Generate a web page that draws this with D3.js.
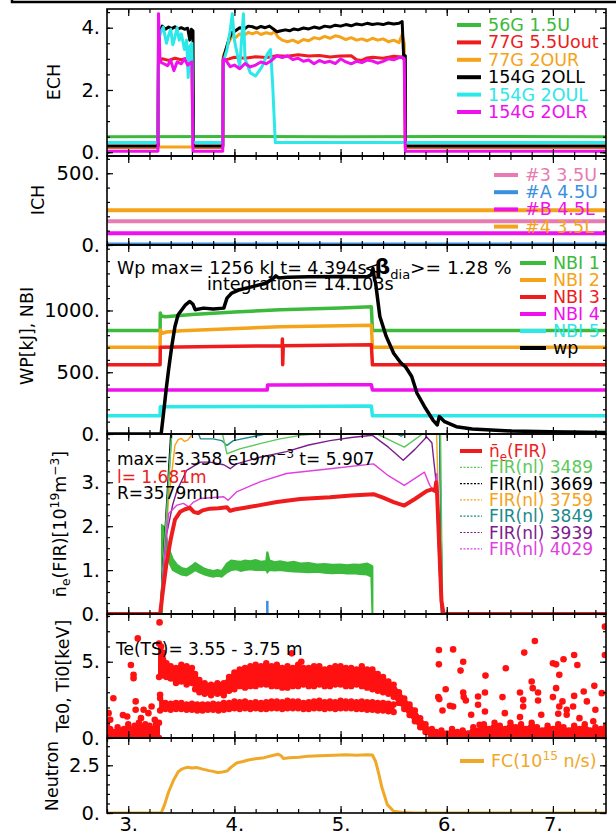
<!DOCTYPE html>
<html>
<head>
<meta charset="utf-8">
<script src="https://cdn.jsdelivr.net/npm/d3@7"></script>
<style>
body{margin:0;background:#fff;}
svg{display:block;font-family:"DejaVu Sans",sans-serif;}
</style>
</head>
<body>
<svg id="chart" width="616" height="838"></svg>
<script>
// ---------- data (time [s], value) ----------
// ECH [MW]
const ech56G = [[2.8,0.5],[4.0,0.51],[5.0,0.5],[6.0,0.51],[7.5,0.5]];
const ech77Gout = [[2.8,0.15],[3.28,0.15],[3.285,2.9],[3.32,3.0],[3.38,2.95],[3.44,3.02],[3.5,2.97],[3.56,3.02],[3.6,2.98],[3.61,0.15],[3.89,0.15],[3.895,2.95],[3.95,3.0],[4.0,3.05],[4.1,3.02],[4.2,3.07],[4.3,3.04],[4.4,3.1],[4.5,3.08],[4.6,3.13],[4.7,3.09],[4.8,3.11],[4.9,3.06],[5.0,3.09],[5.1,3.1],[5.15,2.97],[5.2,2.95],[5.25,3.03],[5.3,3.05],[5.4,3.02],[5.5,3.08],[5.6,3.05],[5.61,0.15],[7.5,0.15]];
const ech77G2OUR = [[2.8,0.17],[3.89,0.17],[3.895,3.1],[3.92,3.3],[3.95,3.55],[3.98,3.75],[4.01,3.68],[4.05,3.8],[4.09,3.75],[4.13,3.85],[4.17,3.8],[4.21,3.86],[4.25,3.78],[4.3,3.84],[4.35,3.8],[4.38,3.88],[4.41,3.7],[4.45,3.6],[4.5,3.55],[4.55,3.6],[4.6,3.52],[4.65,3.62],[4.7,3.58],[4.75,3.68],[4.8,3.64],[4.85,3.72],[4.9,3.66],[4.95,3.74],[5.0,3.7],[5.05,3.62],[5.1,3.68],[5.15,3.6],[5.2,3.64],[5.25,3.58],[5.3,3.66],[5.35,3.6],[5.4,3.64],[5.45,3.55],[5.5,3.6],[5.55,3.52],[5.58,3.78],[5.6,3.5],[5.612,0.17],[7.5,0.17]];
const ech154G2OLL = [[2.8,0.2],[3.28,0.2],[3.285,3.5],[3.3,3.9],[3.32,4.05],[3.35,3.95],[3.38,4.02],[3.41,3.97],[3.44,4.03],[3.47,3.96],[3.5,4.0],[3.53,3.95],[3.56,3.98],[3.58,3.6],[3.595,3.95],[3.61,3.9],[3.615,0.2],[3.89,0.2],[3.895,3.0],[3.92,3.3],[3.95,3.65],[3.98,3.85],[4.01,3.9],[4.05,4.0],[4.09,3.95],[4.13,4.05],[4.17,4.03],[4.21,3.98],[4.25,4.04],[4.29,4.0],[4.33,4.05],[4.37,3.95],[4.4,3.87],[4.44,3.9],[4.48,3.93],[4.52,3.9],[4.56,3.96],[4.6,3.93],[4.65,3.99],[4.7,3.96],[4.75,4.02],[4.8,3.98],[4.85,4.05],[4.9,4.02],[4.95,4.08],[5.0,4.05],[5.05,4.1],[5.1,4.06],[5.15,4.12],[5.2,4.09],[5.25,4.14],[5.3,4.1],[5.35,4.13],[5.4,4.1],[5.45,4.15],[5.5,4.12],[5.55,4.14],[5.58,4.2],[5.595,3.0],[5.61,3.1],[5.612,0.2],[7.5,0.2]];
const ech154G2OUL = [[2.8,0.31],[3.28,0.31],[3.285,3.6],[3.3,3.8],[3.33,4.02],[3.36,3.5],[3.38,3.75],[3.4,3.95],[3.42,3.45],[3.44,3.7],[3.46,4.0],[3.48,3.6],[3.5,3.8],[3.53,3.3],[3.55,3.6],[3.565,2.4],[3.58,3.4],[3.6,3.5],[3.61,0.31],[3.89,0.31],[3.895,2.9],[3.93,3.3],[3.96,3.9],[3.98,4.45],[4.0,3.6],[4.03,3.1],[4.05,2.75],[4.085,4.45],[4.1,3.0],[4.15,2.55],[4.2,2.45],[4.23,2.6],[4.26,2.75],[4.31,3.15],[4.34,3.3],[4.36,2.2],[4.385,0.31],[7.5,0.31]];
const ech154G2OLR = [[2.8,0.03],[3.28,0.03],[3.285,4.45],[3.3,2.9],[3.33,2.85],[3.37,2.78],[3.4,2.95],[3.43,2.62],[3.46,2.9],[3.5,2.84],[3.53,3.0],[3.56,2.8],[3.6,2.9],[3.61,0.03],[3.89,0.03],[3.895,3.0],[3.92,2.95],[3.96,2.75],[4.0,2.8],[4.05,2.68],[4.1,2.85],[4.15,2.74],[4.2,2.8],[4.25,2.9],[4.3,2.84],[4.35,2.95],[4.4,3.1],[4.45,3.04],[4.5,3.1],[4.55,2.98],[4.6,3.02],[4.65,2.92],[4.7,2.96],[4.75,2.84],[4.8,2.95],[4.85,2.88],[4.9,2.92],[4.95,2.85],[5.0,3.0],[5.05,2.9],[5.1,2.84],[5.15,2.92],[5.2,2.88],[5.25,2.96],[5.3,2.93],[5.35,2.86],[5.4,2.92],[5.45,3.0],[5.5,2.97],[5.55,3.04],[5.58,3.05],[5.6,3.0],[5.61,0.03],[7.5,0.03]];
const echNames = ['56G 1.5U','77G 5.5Uout','77G 2OUR','154G 2OLL','154G 2OUL','154G 2OLR'];

// ICH [kW]
const ich3 = [[2.8,165],[7.5,165]];
const ichA = [[2.8,4],[7.5,4]];
const ichB = [[2.8,82],[7.5,82]];
const ich4 = [[2.8,242],[7.5,242]];
const ichNames = ['#3 3.5U','#A 4.5U','#B 4.5L','#4 3.5L'];

// NBI port-through power and stored energy
const nbi1 = [[2.8,838],[3.3,838],[3.302,980],[3.31,955],[3.35,950],[3.6,968],[4.0,988],[4.43,1005],[5.0,1020],[5.29,1030],[5.3,838],[7.5,838]];
const nbi2 = [[2.8,703],[3.3,703],[3.302,842],[3.32,815],[3.36,826],[3.5,835],[4.43,868],[5.29,880],[5.3,703],[7.5,703]];
const nbi3 = [[2.8,560],[3.3,560],[3.302,702],[4.0,710],[4.45,714],[4.452,770],[4.455,560],[4.46,715],[5.29,722],[5.3,560],[7.5,560]];
const nbi4 = [[2.8,357],[4.31,357],[4.312,397],[5.0,398],[5.29,398],[5.3,357],[7.5,357]];
const nbi5 = [[2.8,148],[3.3,148],[3.302,221],[4.5,223],[5.29,226],[5.3,148],[7.5,148]];
const wp = [[2.8,0],[3.31,0],[3.33,150],[3.36,380],[3.38,520],[3.41,710],[3.44,870],[3.47,965],[3.54,1046],[3.58,1073],[3.61,1050],[3.63,1006],[3.71,1019],[3.8,1011],[3.9,1019],[3.93,1100],[3.975,1141],[4.05,1168],[4.18,1195],[4.3,1222],[4.37,1263],[4.39,1280],[4.42,1262],[4.5,1268],[4.7,1272],[5.0,1275],[5.25,1272],[5.29,1290],[5.305,1340],[5.32,1250],[5.33,1222],[5.37,951],[5.43,790],[5.5,654],[5.57,573],[5.61,546],[5.67,465],[5.72,330],[5.8,208],[5.87,113],[5.91,73],[5.93,141],[5.98,100],[6.09,59],[6.24,40],[6.61,24],[6.98,19],[7.5,13]];
const nbiNames = ['NBI 1','NBI 2','NBI 3','NBI 4','NBI 5','wp'];

// line-averaged density and FIR chords [1e19 m^-3]
const neFIR = [[2.8,0],[3.3,0],[3.33,0.6],[3.36,1.15],[3.4,1.7],[3.44,2.15],[3.49,2.33],[3.53,2.38],[3.58,2.42],[3.62,2.32],[3.66,2.3],[3.7,2.36],[3.77,2.4],[3.85,2.41],[3.93,2.43],[3.96,2.35],[4.0,2.38],[4.1,2.42],[4.24,2.48],[4.4,2.55],[4.62,2.62],[4.9,2.66],[5.1,2.7],[5.31,2.73],[5.4,2.65],[5.5,2.55],[5.6,2.47],[5.7,2.62],[5.81,2.8],[5.86,2.84],[5.89,2.8],[5.9,3.0],[5.91,2.7],[5.93,1.5],[5.95,0.3],[5.97,0],[7.5,0]];
const fir3489 = [[2.8,0],[3.3,0],[3.42,4.5],[3.86,4.4],[3.93,3.65],[4.05,3.76],[4.24,3.88],[4.43,3.99],[4.62,4.07],[4.9,4.13],[5.3,4.15],[5.37,4.07],[5.6,3.8],[5.8,4.15],[5.86,4.4],[5.94,4.5],[5.96,0],[7.5,0]];
const fir3669 = [[2.8,0],[3.3,0],[3.41,4.5],[5.93,4.5],[5.96,0],[7.5,0]];
const fir3759 = [[2.8,0],[3.3,0],[3.38,2.6],[3.44,3.84],[3.47,3.97],[3.5,4.0],[3.53,3.93],[3.56,3.96],[3.59,4.05],[3.62,4.3],[5.9,4.5],[5.95,0],[7.5,0]];
const fir3849 = [[2.8,0],[3.3,0],[3.42,4.5],[3.62,4.3],[3.65,4.18],[3.68,3.99],[3.8,3.99],[3.88,3.95],[3.93,3.84],[3.99,3.95],[4.24,4.07],[4.43,4.18],[4.6,4.3],[5.45,4.3],[5.53,4.1],[5.57,4.05],[5.62,4.12],[5.7,4.3],[5.93,4.5],[5.96,0],[7.5,0]];
const fir3939 = [[2.8,0],[3.3,0],[3.36,1.8],[3.42,2.5],[3.46,2.82],[3.55,3.27],[3.68,3.46],[3.77,3.46],[3.9,3.4],[3.96,3.31],[4.02,3.42],[4.24,3.57],[4.49,3.7],[4.7,3.85],[4.9,3.95],[5.1,4.02],[5.3,4.07],[5.45,3.8],[5.59,3.5],[5.7,3.75],[5.81,4.03],[5.86,3.9],[5.9,3.0],[5.93,1.0],[5.95,0],[7.5,0]];
const fir4029 = [[2.8,0],[3.3,0],[3.35,1.5],[3.38,2.29],[3.46,2.48],[3.52,2.52],[3.57,2.44],[3.615,2.55],[3.68,2.63],[3.9,2.67],[3.94,2.59],[4.02,2.78],[4.24,3.01],[4.49,3.2],[4.9,3.31],[5.31,3.42],[5.45,3.15],[5.6,2.93],[5.79,3.23],[5.84,2.93],[5.88,2.8],[5.907,3.2],[5.92,2.5],[5.94,1.0],[5.96,0],[7.5,0]];
// green noisy trace: [t, low, high]
const neGreen = [[3.318,0,2.02],[3.33,1.7,2.0],[3.35,1.6,1.9],[3.38,1.2,1.5],[3.42,1.0,1.25],[3.46,0.95,1.12],[3.5,0.9,1.05],[3.55,0.88,1.02],[3.6,0.95,1.1],[3.63,1.0,1.16],[3.67,0.95,1.1],[3.72,0.9,1.03],[3.76,0.87,1.0],[3.8,0.85,0.98],[3.84,0.87,1.0],[3.88,0.85,0.98],[3.93,0.95,1.15],[3.97,1.0,1.22],[4.02,1.02,1.2],[4.06,0.98,1.19],[4.1,1.0,1.22],[4.15,1.02,1.2],[4.2,1.0,1.23],[4.25,1.01,1.19],[4.3,1.0,1.21],[4.31,0.95,1.42],[4.33,1.0,1.22],[4.38,0.99,1.18],[4.43,1.0,1.2],[4.5,0.98,1.17],[4.56,0.97,1.19],[4.62,0.96,1.15],[4.7,0.95,1.16],[4.78,0.96,1.13],[4.85,0.94,1.14],[4.92,0.93,1.12],[5.0,0.94,1.13],[5.06,0.92,1.11],[5.12,0.93,1.13],[5.18,0.91,1.12],[5.25,0.9,1.15],[5.29,0.85,1.1],[5.3,0,1.08]];
const neGreenTail = [[3.3,0],[5.96,0]];
const neBlue = [[4.31,0],[4.31,0.3]];
const neNames = ['FIR(nl) 3489','FIR(nl) 3669','FIR(nl) 3759','FIR(nl) 3849','FIR(nl) 3939','FIR(nl) 4029'];

// Thomson scattering Te / Ti [keV]: bands [t, low, high] and single points
const teBand = [[3.29,4.0,6.2],[3.31,4.2,6.0],[3.33,4.1,5.6],[3.36,4.0,4.9],[3.4,3.9,4.7],[3.45,3.6,4.6],[3.5,3.7,4.8],[3.55,3.5,4.7],[3.6,3.6,4.6],[3.63,3.2,4.2],[3.67,3.0,3.8],[3.72,2.9,3.6],[3.78,2.8,3.5],[3.84,2.9,3.6],[3.9,2.8,3.6],[3.95,3.1,4.0],[4.0,3.2,4.3],[4.05,3.4,4.5],[4.1,3.3,4.6],[4.15,3.4,4.7],[4.2,3.4,4.8],[4.25,3.5,4.7],[4.3,3.5,4.9],[4.35,3.4,4.7],[4.4,3.4,4.8],[4.45,3.3,4.6],[4.5,3.3,4.7],[4.55,3.4,4.6],[4.6,3.4,4.8],[4.65,3.5,4.6],[4.7,3.4,4.6],[4.75,3.4,4.7],[4.8,3.5,4.7],[4.85,3.4,4.5],[4.9,3.4,4.6],[4.95,3.5,4.7],[5.0,3.5,4.7],[5.05,3.4,4.6],[5.1,3.4,4.6],[5.15,3.5,4.5],[5.2,3.4,4.7],[5.25,3.3,4.5],[5.3,3.2,4.5],[5.35,3.1,4.2],[5.4,3.0,4.0],[5.45,2.9,3.7],[5.5,2.7,3.5],[5.55,2.3,3.0],[5.6,1.9,2.6],[5.65,1.5,2.2],[5.7,1.1,1.8],[5.75,0.7,1.3],[5.8,0.4,0.9],[5.85,0.1,0.5],[5.88,0.0,0.3]];
const tiBand = [[3.3,1.8,2.6],[3.35,1.9,2.3],[3.4,1.85,2.25],[3.45,1.9,2.3],[3.5,1.9,2.3],[3.55,1.85,2.2],[3.6,1.85,2.25],[3.65,1.8,2.2],[3.7,1.8,2.2],[3.75,1.85,2.2],[3.8,1.85,2.25],[3.85,1.8,2.2],[3.9,1.85,2.3],[3.95,1.9,2.3],[4.0,1.95,2.4],[4.05,1.9,2.35],[4.1,1.95,2.4],[4.15,1.9,2.3],[4.2,1.95,2.35],[4.25,1.9,2.3],[4.3,1.9,2.35],[4.35,1.95,2.4],[4.4,1.95,2.4],[4.45,1.9,2.35],[4.5,1.95,2.45],[4.55,1.95,2.4],[4.6,1.95,2.4],[4.65,1.9,2.3],[4.7,1.9,2.35],[4.75,1.95,2.4],[4.8,1.95,2.45],[4.85,1.9,2.35],[4.9,1.95,2.4],[4.95,1.9,2.35],[5.0,1.95,2.45],[5.05,1.95,2.4],[5.1,1.95,2.4],[5.15,1.9,2.35],[5.2,1.9,2.4],[5.25,1.85,2.35],[5.3,1.85,2.35],[5.35,1.8,2.3],[5.4,1.8,2.3],[5.45,1.75,2.25],[5.5,1.7,2.2]];
const teLowPre = [[2.8,0,0.9],[2.83,0,0.6],[2.86,0,0.4],[2.9,0,0.7],[2.93,0,0.5],[2.96,0,0.6],[3.0,0,0.9],[3.03,0,0.6],[3.06,0,0.8],[3.1,0,1.0],[3.13,0,0.7],[3.16,0,0.9],[3.2,0,0.8],[3.23,0,0.6],[3.26,0,0.9],[3.29,0,1.0]];
const teLowPost = [[5.86,0,0.6],[5.9,0,0.4],[5.95,0,0.5],[6.0,0,0.3],[6.05,0,0.6],[6.1,0,0.4],[6.15,0,0.5],[6.2,0,0.3],[6.25,0,0.7],[6.3,0,0.5],[6.35,0,0.9],[6.4,0,0.6],[6.45,0,1.0],[6.5,0,0.8],[6.55,0,0.6],[6.6,0,1.0],[6.65,0,0.7],[6.7,0,0.9],[6.75,0,0.6],[6.8,0,1.0],[6.85,0,0.7],[6.9,0,0.5],[6.95,0,0.8],[7.0,0,0.6],[7.05,0,0.9],[7.1,0,0.7],[7.15,0,0.5],[7.2,0,0.8],[7.25,0,0.6],[7.3,0,0.9],[7.35,0,0.5],[7.4,0,0.7],[7.45,0,0.6],[7.5,0,0.8]];
const teDots = [[2.86,2.61],[3.09,6.53],[3.025,4.79],[3.05,4.14],[3.05,3.92],[3.295,7.58],[3.3,2.83],[3.22,2.07],[3.07,2.4],[3.07,1.85],[3.145,1.85],[2.815,1.63],[2.99,1.41],[2.83,1.2],[3.19,1.63],[3.12,1.3],[2.95,1.5],[3.25,1.2],[4.54,5.55],[4.63,5.0],
  [5.926,5.77],[5.926,4.83],[6.06,5.81],[6.155,5.0],[6.13,4.42],[5.99,3.2],[5.92,2.68],[5.93,2.55],[5.96,1.8],[6.03,2.11],[6.06,2.07],[6.155,2.98],[6.16,2.68],[6.18,2.46],[6.23,1.52],[6.295,2.72],[6.295,2.18],[6.36,2.98],[6.36,1.74],[6.31,0.87],[6.365,4.09],[6.556,4.57],[6.525,2.68],[6.547,1.63],[6.69,2.98],[6.72,2.5],[6.72,2.07],[6.69,1.37],[6.73,5.6],[6.83,6.36],[6.8,3.7],[6.81,3.27],[6.86,2.98],[6.86,2.46],[6.89,1.52],[7.0,4.9],[7.03,4.83],[7.03,3.27],[7.0,2.68],[7.06,4.14],[7.1,5.16],[7.09,2.4],[7.06,2.07],[7.05,1.59],[7.13,1.85],[7.2,2.76],[7.2,5.44],[7.23,4.79],[7.19,2.07],[7.13,1.52],[7.29,3.05],[7.32,2.4],[7.39,3.42],[7.4,1.85],[7.46,2.94],[7.49,5.44],[7.49,7.3],[7.25,1.3],[7.38,1.1]];

// neutron rate, fission chamber [1e15 n/s]
const fc = [[2.8,0],[3.31,0],[3.34,0.4],[3.38,1.1],[3.43,1.76],[3.47,2.15],[3.5,2.29],[3.53,2.35],[3.56,2.4],[3.6,2.36],[3.65,2.38],[3.7,2.3],[3.76,2.22],[3.8,2.18],[3.84,2.12],[3.87,2.13],[3.93,2.2],[3.97,2.4],[4.02,2.62],[4.08,2.7],[4.13,2.78],[4.2,2.84],[4.28,2.9],[4.35,3.0],[4.41,3.08],[4.44,3.0],[4.46,2.86],[4.52,2.9],[4.61,2.92],[4.7,2.98],[4.8,3.0],[4.94,3.03],[5.05,3.05],[5.15,3.02],[5.25,3.05],[5.3,3.04],[5.33,2.7],[5.36,2.05],[5.39,1.32],[5.42,0.8],[5.44,0.44],[5.5,0.09],[5.6,0.02],[5.7,0],[7.5,0]];

// ---------- layout ----------
const xL = 107, xR = 606;
const xMajor = [3,4,5,6,7];
const xMinor = d3.range(2.8, 7.5, 0.2).map(v => +v.toFixed(1));
const x = d3.scaleLinear().domain([2.8, 7.5]).range([xL, xR]);
const svg = d3.select('#chart');
const defs = svg.append('defs');
const fontSize = 19.5;

const C = {
  green:'#3cba3c', red:'#ee1c1c', orange:'#f5a31a', black:'#000', cyan:'#2de8e8', magenta:'#ee11ee',
  pink:'#e87bb0', blue:'#3a8fde', firGreen:'#5cc85c', teal:'#1b8a8a', purple:'#7d1d8d', firMag:'#e040e0', fc:'#f0a828'
};

const tickFmt = d => Number.isInteger(d) ? d + '.' : String(d);

function rich(sel, parts, size){
  let cur = 0;
  parts.forEach(p => {
    const sh = p.s === 'sup' ? -0.4*size : p.s === 'sub' ? 0.25*size : 0;
    const ts = sel.append('tspan').text(p.t).attr('dy', sh - cur)
      .attr('font-size', p.size || (p.s ? size*0.7 : size));
    if(p.b) ts.attr('font-weight','bold');
    if(p.i) ts.attr('font-style','italic');
    if(p.dx) ts.attr('dx', p.dx);
    cur = sh;
  });
}

function panel(name, top, bottom, domain){
  const y = d3.scaleLinear().domain(domain).range([bottom, top]);
  defs.append('clipPath').attr('id','clip-'+name).append('rect')
    .attr('x', xL).attr('y', top).attr('width', xR-xL).attr('height', bottom-top);
  const plot = svg.append('g').attr('clip-path', `url(#clip-${name})`);
  return {name, top, bottom, domain, y, plot};
}

function line(p, data, color, w, dash){
  p.plot.append('path').datum(data)
    .attr('fill','none').attr('stroke',color).attr('stroke-width',w)
    .attr('stroke-linejoin','round')
    .attr('stroke-dasharray', dash || null)
    .attr('d', d3.line().x(d => x(d[0])).y(d => p.y(d[1])));
}

function band(p, data, color, dots){
  p.plot.append('path').datum(data)
    .attr('fill', color).attr('stroke', color).attr('stroke-width', 2)
    .attr('d', d3.area().x(d => x(d[0])).y0(d => p.y(d[1])).y1(d => p.y(d[2])));
  if(dots){
    const pts = data.flatMap(d => [[d[0], d[1]], [d[0], d[2]]]);
    p.plot.selectAll(null).data(pts).enter().append('circle')
      .attr('cx', d => x(d[0])).attr('cy', d => p.y(d[1])).attr('r', 3.2).attr('fill', color);
  }
}

function axes(p, majors, minorStep, showX){
  const g = svg.append('g');
  const minors = d3.range(Math.ceil(p.domain[0]/minorStep)*minorStep, p.domain[1], minorStep);
  g.append('g').attr('transform',`translate(${xL},0)`)
    .call(d3.axisLeft(p.y).tickValues(majors).tickSize(-6).tickPadding(7).tickFormat(tickFmt));
  g.append('g').attr('transform',`translate(${xL},0)`)
    .call(d3.axisLeft(p.y).tickValues(minors).tickSize(-3).tickFormat(''));
  g.append('g').attr('transform',`translate(${xR},0)`)
    .call(d3.axisRight(p.y).tickValues(majors).tickSize(-6).tickFormat(''));
  g.append('g').attr('transform',`translate(${xR},0)`)
    .call(d3.axisRight(p.y).tickValues(minors).tickSize(-3).tickFormat(''));
  g.append('g').attr('transform',`translate(0,${p.top})`)
    .call(d3.axisTop(x).tickValues(xMajor).tickSize(-7).tickFormat(''));
  g.append('g').attr('transform',`translate(0,${p.top})`)
    .call(d3.axisTop(x).tickValues(xMinor).tickSize(-4).tickFormat(''));
  g.append('g').attr('transform',`translate(0,${p.bottom})`)
    .call(d3.axisBottom(x).tickValues(xMajor).tickSize(-7).tickPadding(4).tickFormat(showX ? tickFmt : ''));
  g.append('g').attr('transform',`translate(0,${p.bottom})`)
    .call(d3.axisBottom(x).tickValues(xMinor).tickSize(-4).tickFormat(''));
  g.selectAll('.domain').remove();
  g.selectAll('.tick line').attr('stroke-width', 1.2);
  g.selectAll('text').attr('font-size', fontSize).attr('font-family', '"DejaVu Sans",sans-serif');
  g.append('rect').attr('x', xL).attr('y', p.top).attr('width', xR-xL).attr('height', p.bottom-p.top)
    .attr('fill','none').attr('stroke','#000').attr('stroke-width',1.6);
}

function ylabel(cx, cy, parts){
  const t = svg.append('text').attr('transform',`translate(${cx},${cy}) rotate(-90)`)
    .attr('y', 6).attr('text-anchor','middle').attr('font-size',17.5);
  rich(t, parts, 17.5);
}

function legend(x0, y0, step, len, items, size){
  items.forEach((it, i) => {
    const yy = y0 + i*step;
    svg.append('line').attr('x1',x0).attr('x2',x0+len).attr('y1',yy).attr('y2',yy)
      .attr('stroke',it.color).attr('stroke-width',it.w || 4)
      .attr('stroke-dasharray', it.dash || null);
    const t = svg.append('text').attr('x', x0+len+7).attr('y', yy+6)
      .attr('fill', it.text || it.color).attr('font-size',size || 17.5);
    rich(t, it.parts || [{t: it.label}], size || 17.5);
  });
}

// ---------- panels ----------
const pECH = panel('ech', 9, 156, [-0.12, 4.6]);
const pICH = panel('ich', 156, 245, [0, 620]);
const pWP  = panel('wp', 245, 434, [0, 1530]);
const pNE  = panel('ne', 434, 614, [0, 4.1]);
const pTE  = panel('te', 614, 738, [0, 8.13]);
const pFC  = panel('fc', 738, 813, [0, 3.93]);

// ECH
const echSeries = [ech56G, ech77Gout, ech77G2OUR, ech154G2OLL, ech154G2OUL, ech154G2OLR];
const echColors = [C.green, C.red, C.orange, C.black, C.cyan, C.magenta];
echSeries.forEach((s, i) => line(pECH, s, echColors[i], 3));

// ICH
const ichSeries = [ich3, ichA, ichB, ich4];
const ichColors = [C.pink, C.blue, C.magenta, C.orange];
[ichA, ichB, ich3, ich4].forEach(s => line(pICH, s, ichColors[ichSeries.indexOf(s)], 4));

// NBI & Wp
const nbiSeries = [nbi1, nbi2, nbi3, nbi4, nbi5];
const nbiColors = [C.green, C.orange, C.red, C.magenta, C.cyan];
nbiSeries.forEach((s, i) => line(pWP, s, nbiColors[i], 3.5));
line(pWP, wp, C.black, 3.5);

// density
band(pNE, neGreen, C.green, false);
line(pNE, neGreenTail, C.green, 2);
line(pNE, neBlue, C.blue, 2.5);
const firSeries = [fir3489, fir3669, fir3759, fir3849, fir3939, fir4029];
const firColors = [C.firGreen, C.black, C.orange, C.teal, C.purple, C.firMag];
[fir3669, fir3759, fir3849, fir3489, fir3939, fir4029].forEach(s => line(pNE, s, firColors[firSeries.indexOf(s)], 1.4));
line(pNE, neFIR, C.red, 4);

// Te / Ti
[teLowPre, teLowPost, tiBand, teBand].forEach(b => band(pTE, b, '#ff1111', true));
pTE.plot.selectAll(null).data(teDots).enter().append('circle')
  .attr('cx', d => x(d[0])).attr('cy', d => pTE.y(d[1])).attr('r', 3.3).attr('fill', '#ff1111');

// neutron
line(pFC, fc, C.fc, 3);

// axes and frames
axes(pECH, [0,2,4], 0.5, false);
axes(pICH, [0,500], 100, false);
axes(pWP, [0,500,1000], 100, false);
axes(pNE, [0,1,2,3], 0.25, false);
axes(pTE, [0,5], 1, false);
axes(pFC, [0,2.5], 0.5, true);

// top border of the page
svg.append('path').attr('d','M12,0V2H616').attr('fill','none').attr('stroke','#000').attr('stroke-width',2.5);

// y labels
ylabel(54, 82, [{t:'ECH'}]);
ylabel(38, 200, [{t:'ICH'}]);
ylabel(27, 336, [{t:'WP[kJ], NBI'}]);
ylabel(60, 524, [{t:'n\u0304'},{t:'e',s:'sub'},{t:'(FIR)[10'},{t:'19',s:'sup'},{t:'m'},{t:'\u22123',s:'sup'},{t:']'}]);
ylabel(63, 676, [{t:'Te0, Ti0[keV]'}]);
ylabel(52, 776, [{t:'Neutron'}]);

// legends
legend(457, 25, 17.4, 24, echNames.map((n, i) => ({label:n, color:echColors[i]})));
legend(494, 175, 17.2, 24, ichNames.map((n, i) => ({label:n, color:ichColors[i]})));
legend(520, 263, 17, 26, nbiNames.map((n, i) => ({label:n, color: i < 5 ? nbiColors[i] : C.black})));
legend(460, 451, 16.3, 22, [{parts:[{t:'n\u0304'},{t:'e',s:'sub'},{t:'(FIR)'}], color:C.red}]
  .concat(neNames.map((n, i) => ({label:n, color:firColors[i], w:1.2, dash:'2,1.5'}))), 17);
legend(460, 761, 17, 24, [{parts:[{t:'FC(10'},{t:'15',s:'sup'},{t:' n/s)'}], color:C.fc}]);

// annotations
svg.append('text').attr('x',117).attr('y',274).attr('font-size',17.5).text('Wp max= 1256 kJ t= 4.394s');
rich(svg.append('text').attr('x',364).attr('y',274), [{t:'<',size:18.5},{t:'\u03b2',b:true,size:22,dx:-5},{t:'dia',s:'sub',size:13},{t:'>= 1.28 %',size:18.5}], 18.5);
svg.append('text').attr('x',207).attr('y',290).attr('font-size',17.5).text('integration= 14.103s');

rich(svg.append('text').attr('x',117).attr('y',465), [{t:'max= 3.358 e19'},{t:'m',i:true},{t:'\u22123',s:'sup'},{t:' t= 5.907'}], 17);
svg.append('text').attr('x',117).attr('y',483).attr('font-size',17).attr('fill',C.red).text('l= 1.681m');
svg.append('text').attr('x',117).attr('y',499).attr('font-size',17).text('R=3579mm');

svg.append('text').attr('x',116).attr('y',655).attr('font-size',17).text('Te(TS)= 3.55 - 3.75 m');
</script>
</body>
</html>
